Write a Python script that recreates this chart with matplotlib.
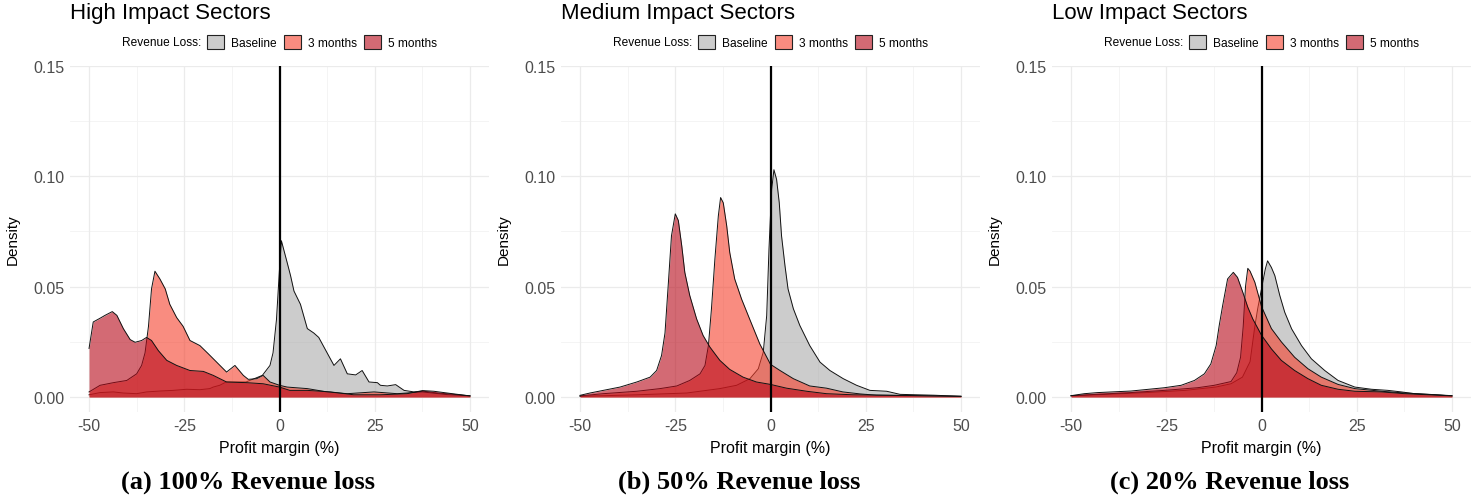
import matplotlib
matplotlib.use("Agg")
import matplotlib.pyplot as plt
from matplotlib.colors import to_rgba
from matplotlib.patches import Patch

# ---- data (profit margin %, density) ----
series_names = ["Baseline", "3 months", "5 months"]
panel_titles = ["High Impact Sectors", "Medium Impact Sectors", "Low Impact Sectors"]
panel_captions = ["(a) 100% Revenue loss", "(b) 50% Revenue loss", "(c) 20% Revenue loss"]

hi_base_x = [-50, -47.1, -43.6, -41, -37.5, -34.9, -31.4, -27.9, -24.4, -20.9, -18.3, -17.4,
             -15.7, -14, -11.4, -8.8, -6.2, -4.5, -2.5, -1.7, -0.8, 0, 0.5, 2, 2.9, 3.8, 5.5,
             7.3, 9, 10.3, 12.5, 14.3, 16, 17.8, 20, 21.7, 23.5, 25.7, 26.5, 28.3, 30.5, 32.7,
             35.3, 37.9, 41.4, 45.8, 50]
hi_base_y = [0.001, 0.002, 0.0023, 0.0018, 0.0015, 0.0023, 0.0027, 0.003, 0.0035, 0.0033,
             0.0038, 0.0045, 0.0053, 0.0068, 0.0068, 0.0068, 0.0086, 0.0098, 0.0143, 0.020,
             0.035, 0.058, 0.0708, 0.061, 0.055, 0.048, 0.042, 0.031, 0.029, 0.027, 0.020,
             0.0143, 0.0173, 0.0105, 0.010, 0.012, 0.0068, 0.0065, 0.0053, 0.005, 0.0056,
             0.003, 0.0023, 0.0026, 0.0018, 0.0012, 0.0005]
hi_3m_x = [-50, -47.1, -43.6, -40.1, -37.5, -36.2, -35.3, -34.4, -33.6, -32.7, -31.4, -30,
           -28.8, -27, -25.3, -23.5, -20.9, -18.7, -16.5, -13.9, -11.7, -9.5, -8.2, -6, -4.3,
           -2.5, 0, 2, 7.3, 12.5, 17.8, 24.8, 30.9, 37.5, 43.9, 50]
hi_3m_y = [0.0023, 0.0053, 0.0065, 0.0075, 0.0105, 0.0143, 0.020, 0.032, 0.049, 0.057, 0.0535,
           0.049, 0.042, 0.036, 0.032, 0.0256, 0.0233, 0.0196, 0.0158, 0.0113, 0.0143, 0.0098,
           0.008, 0.0083, 0.0098, 0.0068, 0.0053, 0.0045, 0.0038, 0.0023, 0.0015, 0.0023,
           0.0015, 0.0023, 0.0011, 0.0005]
hi_5m_x = [-50, -48.9, -47.1, -45.8, -43.9, -42.7, -41, -39.2, -37.9, -36.2, -34.9, -33.6,
           -31.8, -29.6, -27, -23.5, -20, -17.4, -13.9, -8.7, -4.3, 0, 2.7, 7.3, 13.4, 19.5,
           26.5, 33.5, 37.5, 40.5, 45.8, 50]
hi_5m_y = [0.022, 0.034, 0.0357, 0.037, 0.0387, 0.037, 0.031, 0.026, 0.0248, 0.0256, 0.027,
           0.0256, 0.021, 0.0166, 0.0143, 0.012, 0.0116, 0.0098, 0.0068, 0.0065, 0.006, 0.0045,
           0.003, 0.003, 0.0023, 0.001, 0.001, 0.0015, 0.0029, 0.0026, 0.0014, 0.0005]

md_base_x = [-50, -35, -22, -13.3, -8.9, -5.4, -3.2, -1.9, -1, -0.4, 0.3, 0.9, 1.6, 2.3, 2.9,
             3.8, 4.6, 6, 7.7, 10.3, 13, 15.6, 19.1, 22.6, 26.1, 30.5, 34, 38.4, 43, 50]
md_base_y = [0.0003, 0.001, 0.0018, 0.0038, 0.0053, 0.0083, 0.0128, 0.0203, 0.0369, 0.067,
             0.094, 0.103, 0.0986, 0.088, 0.073, 0.0595, 0.049, 0.040, 0.0324, 0.0233, 0.0158,
             0.012, 0.0083, 0.0053, 0.003, 0.0026, 0.0012, 0.001, 0.0008, 0.0003]
md_3m_x = [-50, -43.9, -35.1, -29, -24.6, -21.2, -18.5, -17.2, -16.3, -15.5, -14.6, -13.7,
           -13.1, -12.4, -11.5, -10.7, -9.4, -7.6, -5.4, -2.8, 0, 2.5, 6, 10.3, 14.7, 19,
           23.5, 27.8, 36.6, 50]
md_3m_y = [0.0005, 0.0015, 0.0026, 0.0038, 0.005, 0.0075, 0.0105, 0.0143, 0.0233, 0.040,
           0.0625, 0.082, 0.0904, 0.088, 0.0776, 0.0655, 0.0535, 0.0444, 0.035, 0.024, 0.0148,
           0.012, 0.0083, 0.005, 0.004, 0.0023, 0.0014, 0.0008, 0.0006, 0.0003]
md_5m_x = [-50, -47.4, -43.9, -39.5, -35.1, -31.6, -29.9, -28.6, -27.7, -26.8, -26, -25,
           -24.2, -23.3, -22.5, -21.2, -19.4, -17.7, -15.9, -13.3, -10.7, -7.2, -3.7, 0, 4.2,
           9.5, 14.7, 21.7, 32, 50]
md_5m_y = [0.00075, 0.0018, 0.003, 0.0045, 0.0068, 0.009, 0.012, 0.0188, 0.029, 0.052, 0.073,
           0.083, 0.080, 0.0685, 0.0565, 0.046, 0.0354, 0.0279, 0.0226, 0.0166, 0.0125, 0.009,
           0.0068, 0.0057, 0.004, 0.0026, 0.0015, 0.001, 0.0008, 0.0003]

lo_base_x = [-50, -30, -20, -12, -8, -5, -3, -1.75, -1, 0, 1, 1.6, 2.6, 3.5, 4.8, 6.1, 7.9,
             10.5, 13.1, 16.6, 20.1, 24.5, 28.9, 33.2, 36.7, 40.2, 45.5, 50]
lo_base_y = [0.0005, 0.002, 0.003, 0.0045, 0.006, 0.009, 0.016, 0.032, 0.040, 0.049, 0.058,
             0.0617, 0.0587, 0.055, 0.046, 0.0384, 0.0309, 0.0233, 0.0173, 0.012, 0.0075,
             0.0045, 0.0035, 0.003, 0.0023, 0.0015, 0.001, 0.0005]
lo_3m_x = [-50, -34.3, -25.5, -16.8, -12.4, -8, -6.5, -5.5, -4.8, -4.2, -3.6, -3, -1.75, 0,
           2.6, 5.2, 8.7, 12.2, 15.7, 20.1, 24.5, 31.5, 37.6, 44, 50]
lo_3m_y = [0.0006, 0.002, 0.003, 0.0042, 0.0053, 0.007, 0.011, 0.018, 0.032, 0.050, 0.0583,
           0.057, 0.052, 0.041, 0.031, 0.025, 0.018, 0.0128, 0.009, 0.0057, 0.0038, 0.0026,
           0.0018, 0.0012, 0.0006]
lo_5m_x = [-50, -46.5, -43, -34.3, -25.5, -21.1, -17.6, -15, -13.3, -11.9, -11.1, -10.2, -8.9,
           -7.4, -6.3, -4.9, -3.6, -2.3, 0, 2.6, 5.2, 8.7, 12.2, 15.7, 20.1, 24.5, 31.5, 37.6,
           43.7, 50]
lo_5m_y = [0.0006, 0.0015, 0.002, 0.0027, 0.0042, 0.0053, 0.0075, 0.0105, 0.015, 0.0233,
           0.0324, 0.0414, 0.0535, 0.0565, 0.0542, 0.0474, 0.0407, 0.0354, 0.028, 0.0218,
           0.0166, 0.012, 0.0083, 0.0053, 0.0035, 0.0026, 0.0023, 0.0015, 0.001, 0.0005]

x_ticks = [-50, -25, 0, 25, 50]
x_minor = [-37.5, -12.5, 12.5, 37.5]
y_ticks = [0.0, 0.05, 0.10, 0.15]
y_minor = [0.025, 0.075, 0.125]

FILL_COLORS = ["#aaaaaa", "#f53f2b", "#b70717"]
FILL_ALPHA = 0.6
W, H = 1482, 502
SANS = ["Liberation Sans", "DejaVu Sans"]


def px_axes(fig, left, top, width, height):
    return fig.add_axes([left / W, 1 - (top + height) / H, width / W, height / H])


def draw_panel(fig, left, curves, title, caption):
    ax = px_axes(fig, left, 67, 419, 346)
    ax.set_xlim(-55, 55)
    ax.set_ylim(-0.0068, 0.15)

    for v in x_minor:
        ax.axvline(v, color="#f3f3f3", lw=0.6, zorder=0)
    for v in y_minor:
        ax.axhline(v, color="#f3f3f3", lw=0.6, zorder=0)
    for v in x_ticks:
        ax.axvline(v, color="#ebebeb", lw=0.9, zorder=0)
    for v in y_ticks:
        ax.axhline(v, color="#ebebeb", lw=0.9, zorder=0)

    # drawn in legend order so 5 months sits on top
    for i, (xx, yy) in enumerate(curves):
        ax.fill_between(xx, yy, 0, color=FILL_COLORS[i], alpha=FILL_ALPHA, lw=0, zorder=2 + i)
        ax.plot(xx, yy, color="#111111", lw=0.7, zorder=2 + i)
    ax.axvline(0, color="black", lw=1.6, zorder=10)

    for s in ax.spines.values():
        s.set_visible(False)
    ax.set_xticks(x_ticks)
    ax.set_xticklabels([str(t) for t in x_ticks])
    ax.set_yticks(y_ticks)
    ax.set_yticklabels(["0.00", "0.05", "0.10", "0.15"])
    ax.tick_params(length=0, labelsize=11.5, labelcolor="#4d4d4d", pad=4)
    for lab in ax.get_xticklabels() + ax.get_yticklabels():
        lab.set_family(SANS)

    ax.set_xlabel("Profit margin (%)", fontsize=11.5, family=SANS)
    ax.set_ylabel("Density", fontsize=11, family=SANS)
    ax.xaxis.set_label_coords(0.5, -0.081)
    ax.yaxis.set_label_coords(-0.119, 0.5)

    fig.text(left / W, 1 - 14 / H, title, fontsize=16, family=SANS, va="center", ha="left")
    fig.text((left + 131) / W, 1 - 43 / H, "Revenue Loss:", fontsize=8.6, family=SANS,
             va="center", ha="right")
    handles = [Patch(facecolor=to_rgba(c, FILL_ALPHA), edgecolor="#222222", lw=0.8, label=n)
               for c, n in zip(FILL_COLORS, series_names)]
    fig.legend(handles=handles, ncol=3, loc="center left",
               bbox_to_anchor=((left + 137) / W, 1 - 43 / H),
               bbox_transform=fig.transFigure, frameon=False,
               borderpad=0, borderaxespad=0, handlelength=1.45, handleheight=1.35,
               handletextpad=0.6, columnspacing=0.55, prop={"family": SANS, "size": 8.6})
    fig.text((left + 178) / W, 1 - 482 / H, caption, fontsize=19, fontweight="bold",
             family=["Liberation Serif", "DejaVu Serif"], va="center", ha="center")
    return ax


def main():
    fig = plt.figure(figsize=(W / 100, H / 100), dpi=100)
    panels = [
        [(hi_base_x, hi_base_y), (hi_3m_x, hi_3m_y), (hi_5m_x, hi_5m_y)],
        [(md_base_x, md_base_y), (md_3m_x, md_3m_y), (md_5m_x, md_5m_y)],
        [(lo_base_x, lo_base_y), (lo_3m_x, lo_3m_y), (lo_5m_x, lo_5m_y)],
    ]
    lefts = [70, 561, 1052]
    for left, curves, title, caption in zip(lefts, panels, panel_titles, panel_captions):
        draw_panel(fig, left, curves, title, caption)
    fig.savefig("out.png", dpi=100)


if __name__ == "__main__":
    main()
